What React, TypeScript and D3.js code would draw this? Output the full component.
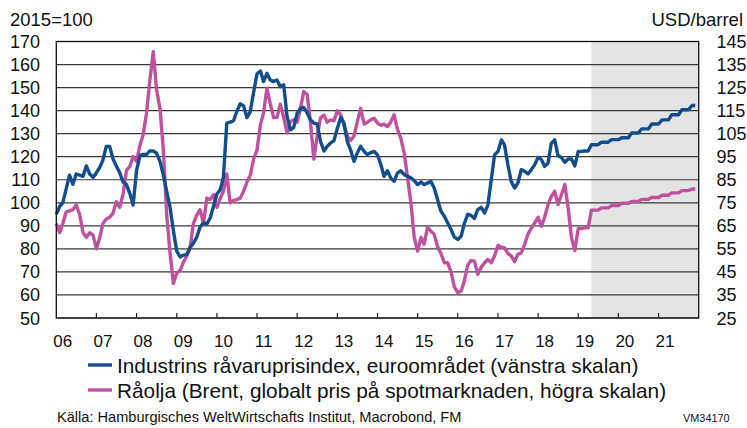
import React from "react"
import * as d3 from "d3"

// Industrins råvaruprisindex (2015=100), månadsvärden från 2006-01
const industryIndex = [
  95, 98.5, 100, 106, 112, 108, 112.5, 112, 111.5, 116, 112.5, 111,
  113, 115.5, 118.5, 124.5, 124.5, 119, 116, 113, 109, 108, 104, 99,
  114, 120.5, 121, 121, 122.5, 122.5, 121.5, 118, 112, 105, 98, 88,
  79, 76.5, 77.3, 77.5, 80.5, 82.5, 85, 89.5, 91.3, 90.8, 93.4, 98.5,
  103.8, 105.7, 111, 134.6, 135, 135.6, 139.6, 143, 142, 137, 139.6, 148,
  156, 157.2, 152.6, 156.2, 153.3, 152.6, 153.3, 150.4, 151.2, 137.5, 131.7, 132.7,
  138.9, 141, 141.4, 139, 136, 134.6, 134.2, 126.6, 122.5, 124.5, 126, 127,
  132.4, 137, 134.6, 126.6, 123, 118, 121.6, 124.5, 122.3, 121, 121.8, 122.3,
  120.8, 116.5, 111.5, 113.9, 110.8, 109.3, 112.9, 113.9, 112.2, 111.5, 110.8, 109.6,
  107.9, 109, 107.9, 108.6, 109.3, 106.4, 101.4, 96.3, 94.2, 91.3, 88.4, 85.1,
  84.1, 85.5, 91, 95, 94.5, 93.2, 97, 98, 95.6, 99, 110, 120.8,
  122.3, 127.3, 125.2, 116.5, 109.3, 106.4, 108.6, 114.4, 113.6, 112.5, 114.4, 116.5,
  119.7, 118.7, 115.8, 117.2, 125.8, 127.3, 120.5, 119.7, 117.6, 119, 119, 116,
  122.3, 122.3, 122.5, 122.5,
]
// prognos 2019-05 .. 2021-12
const industryForecast = [
  125.2, 125.2, 125.2, 126.3, 126.3, 126.3, 127.4, 127.4, 127.4, 128.2, 128.2, 128.2,
  130.3, 130.3, 130.3, 132.1, 132.1, 132.1, 134.2, 134.2, 134.2, 136, 136, 136,
  138.2, 138.2, 138.2, 140.4, 140.4, 140.4, 142.2, 142.2,
]

// Brent, USD/fat, månadsvärden från 2006-01
const oilPrice = [
  66, 62, 66, 71, 71.5, 72, 74, 70, 62, 60, 62, 61,
  55, 60, 66, 68, 68.7, 70.5, 75.5, 73, 79, 89, 90.8, 95,
  93, 100, 104.5, 114, 128, 140.6, 124, 116, 98, 70, 53, 40,
  44.5, 45.7, 49, 51.9, 55, 66, 69.5, 72, 66, 77, 76.4, 78.5,
  73, 77, 80, 87.5, 75, 76, 76.4, 77, 80, 84, 87, 94,
  98, 108.9, 113.9, 124.7, 118, 112, 112, 117.8, 112, 105.3, 110.3, 111,
  110, 116, 123.3, 122, 110, 94, 104, 112, 113, 110, 111, 110.6,
  114.9, 113.2, 109, 104, 102, 104, 110, 116, 109.2, 110, 111, 111.7,
  109.6, 108.6, 109.2, 108.1, 110, 113.2, 107, 103, 96.6, 86, 75, 60,
  54, 60, 57, 64.4, 62.7, 61.3, 56, 53, 49, 49, 45, 38.5,
  36, 36.7, 41, 48, 50, 49.7, 44, 47, 49, 50.4, 49, 52,
  56.5, 55.7, 55.5, 53, 52, 49.4, 52.6, 53.3, 57, 61.5, 64, 66.3,
  68.7, 64.8, 68.7, 74.2, 77.8, 80, 74.2, 78.5, 82.9, 72.8, 59.8, 54.3,
  63.8, 63.8, 64.1, 64.1,
]
const oilForecast = [
  71.8, 71.8, 71.8, 72.8, 72.8, 72.8, 73.8, 73.8, 73.8, 74.8, 74.8, 74.8,
  75.6, 75.6, 75.6, 76.5, 76.5, 76.5, 77.3, 77.3, 77.3, 78.3, 78.3, 78.3,
  79.3, 79.3, 79.3, 80.3, 80.3, 80.3, 81, 81,
]

const yearLabels = ["06", "07", "08", "09", "10", "11", "12", "13", "14", "15", "16", "17", "18", "19", "20", "21"]
const leftTicks = [50, 60, 70, 80, 90, 100, 110, 120, 130, 140, 150, 160, 170]
const rightTicks = [25, 35, 45, 55, 65, 75, 85, 95, 105, 115, 125, 135, 145]
const forecastStart = new Date(Date.UTC(2019, 4, 1))
const seriesStart = new Date(Date.UTC(2006, 0, 1))

const blue = "#124d8c"
const pink = "#c0519f"
const font = "'Liberation Sans', Arial, sans-serif"

export default function App() {
  const W = 747
  const H = 428
  const left = 56.3, right = 698.7, top = 41.5, bottom = 318

  const x = d3.scaleUtc()
    .domain([seriesStart, new Date(Date.UTC(2022, 0, 1))])
    .range([left, right])
  const yL = d3.scaleLinear().domain([50, 170]).range([bottom, top])
  const yR = d3.scaleLinear().domain([25, 145]).range([bottom, top])

  const ind = industryIndex.concat(industryForecast)
  const oil = oilPrice.concat(oilForecast)
  const dateOf = (i: number) => d3.utcMonth.offset(seriesStart, i)

  const lineL = d3.line<number>().x((_, i) => x(dateOf(i))).y(d => yL(d))
  const lineR = d3.line<number>().x((_, i) => x(dateOf(i))).y(d => yR(d))

  const years = yearLabels.map((_, i) => new Date(Date.UTC(2006 + i, 0, 1)))

  return (
    <svg width={W} height={H} style={{ position: "absolute", left: 0, top: 0, background: "#fff" }} fontFamily={font}>
      <rect x={x(forecastStart)} y={top} width={right - x(forecastStart)} height={bottom - top} fill="#e4e4e4" />
      {leftTicks.map(t => (
        <line key={t} x1={left} x2={right} y1={yL(t)} y2={yL(t)} stroke="#3a3a3a" strokeWidth={1.2} />
      ))}
      {years.slice(1).map((d, i) => (
        <line key={i} x1={x(d)} x2={x(d)} y1={bottom} y2={bottom - 5} stroke="#222" strokeWidth={1.2} />
      ))}
      <path d={lineR(oil) || ""} fill="none" stroke={pink} strokeWidth={3.4} strokeLinejoin="round" />
      <path d={lineL(ind) || ""} fill="none" stroke={blue} strokeWidth={3.4} strokeLinejoin="round" />
      <rect x={left} y={top} width={right - left} height={bottom - top} fill="none" stroke="#111" strokeWidth={1.3} />

      {leftTicks.map(t => (
        <text key={t} x={40} y={yL(t) + 6.5} fontSize={18} textAnchor="end" fill="#111">{t}</text>
      ))}
      {rightTicks.map(t => (
        <text key={t} x={716.5} y={yR(t) + 6.5} fontSize={18} fill="#111">{t}</text>
      ))}
      {years.map((d, i) => (
        <text key={i} x={x(d) + 6.5} y={346.5} fontSize={17} textAnchor="middle" fill="#111">{yearLabels[i]}</text>
      ))}
      <text x={10} y={26} fontSize={18.5} fill="#111">2015=100</text>
      <text x={743} y={26} fontSize={18.5} textAnchor="end" fill="#111">USD/barrel</text>

      <line x1={88} x2={112} y1={365} y2={365} stroke={blue} strokeWidth={3.4} />
      <text x={117} y={372.5} fontSize={20.8} fill="#111">Industrins råvaruprisindex, euroområdet (vänstra skalan)</text>
      <line x1={88} x2={112} y1={390} y2={390} stroke={pink} strokeWidth={3.4} />
      <text x={117} y={397.5} fontSize={20.8} fill="#111">Råolja (Brent, globalt pris på spotmarknaden, högra skalan)</text>

      <text x={57} y={422} fontSize={14.6} fill="#111">Källa: Hamburgisches WeltWirtschafts Institut, Macrobond, FM</text>
      <text x={683} y={422} fontSize={10.9} fill="#111">VM34170</text>
    </svg>
  )
}
